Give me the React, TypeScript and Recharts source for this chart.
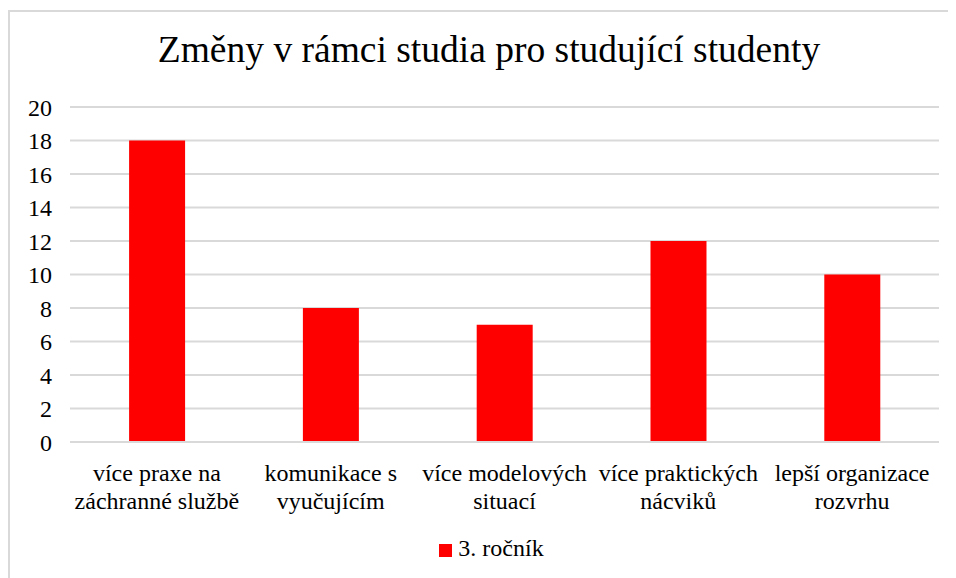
import { BarChart, Bar, XAxis, YAxis, CartesianGrid, Legend } from 'recharts'

const KATEGORIE = [
  'více praxe na\nzáchranné službě',
  'komunikace s\nvyučujícím',
  'více modelových\nsituací',
  'více praktických\nnácviků',
  'lepší organizace\nrozvrhu',
]

const ROCNIK3 = [18, 8, 7, 12, 10]

const Y_TICKS = [0, 2, 4, 6, 8, 10, 12, 14, 16, 18, 20]

const data = KATEGORIE.map((k, i) => ({ kategorie: k, rocnik3: ROCNIK3[i] }))

const FONT = '"Liberation Serif"'

function KategorieTick({ x, y, payload }: any) {
  const lines = String(payload.value).split('\n')
  return (
    <text x={x} y={y} textAnchor="middle" fill="#000" style={{ fontSize: 24, fontFamily: FONT }}>
      {lines.map((l, i) => (
        <tspan key={i} x={x} dy={i === 0 ? 31 : 28}>{l}</tspan>
      ))}
    </text>
  )
}

export default function App() {
  return (
    <div style={{
      position: 'relative', width: 948, height: 570, marginTop: 2,
      borderTop: '2px solid #d9d9d9', borderLeft: '2px solid #d9d9d9',
      fontFamily: FONT, overflow: 'hidden',
    }}>
      <div style={{
        position: 'absolute', left: 0, top: 16, width: 958, textAlign: 'center',
        fontSize: 37.5, color: '#000', lineHeight: '44px', fontFamily: FONT,
      }}>
        Změny v rámci studia pro studující studenty
      </div>
      <div style={{ position: 'absolute', left: 0, top: 0 }}>
        <BarChart width={946} height={560} data={data} style={{ fontFamily: FONT }}
          margin={{ top: 95, right: 17, left: 0, bottom: 24 }} barCategoryGap="34%">
          <CartesianGrid vertical={false} stroke="#d9d9d9" strokeWidth={2} />
          <XAxis dataKey="kategorie" axisLine={{ stroke: '#d9d9d9', strokeWidth: 2 }} tickLine={false}
            tick={<KategorieTick />} height={80} interval={0} />
          <YAxis ticks={Y_TICKS} domain={[0, 20]} axisLine={false} tickLine={false} width={60}
            tick={{ fill: '#000', fontSize: 24, style: { fontFamily: FONT } }} tickMargin={12} />
          <Legend verticalAlign="bottom" iconType="square" iconSize={13}
            wrapperStyle={{ fontSize: 24, fontFamily: FONT, color: '#000', bottom: 11, paddingLeft: 22, lineHeight: '26px' }}
            formatter={(v) => <span style={{ color: '#000', fontFamily: FONT, marginLeft: 2 }}>{v}</span>} />
          <Bar dataKey="rocnik3" name="3. ročník" fill="#ff0000" isAnimationActive={false} />
        </BarChart>
      </div>
    </div>
  )
}
